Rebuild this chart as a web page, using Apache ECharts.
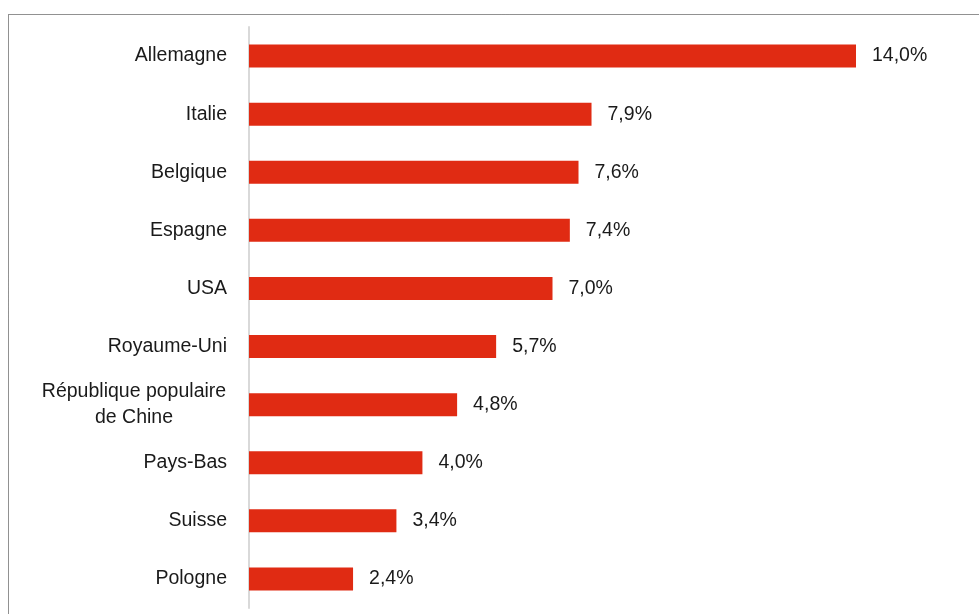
<!DOCTYPE html>
<html>
<head>
<meta charset="utf-8">
<style>
html,body{margin:0;padding:0;background:#fff;}
#chart{width:979px;height:614px;}
</style>
<script src="https://cdn.jsdelivr.net/npm/echarts@6/dist/echarts.min.js"></script>
</head>
<body>
<div id="chart"></div>
<script>
const categories = ["Allemagne","Italie","Belgique","Espagne","USA","Royaume-Uni","République populaire\nde Chine","Pays-Bas","Suisse","Pologne"];
const values = [14.0,7.9,7.6,7.4,7.0,5.7,4.8,4.0,3.4,2.4];

const FONT = "'Liberation Sans',Arial,sans-serif";
const FS = 19.5;
const chart = echarts.init(document.getElementById('chart'));
chart.setOption({
  animation:false,
  backgroundColor:'#fff',
  graphic:[{type:'rect',shape:{x:8.5,y:14.5,width:1100,height:1100},style:{fill:'none',stroke:'#222',lineWidth:1,lineDash:[1,1]},silent:true}],
  grid:{left:249,right:123,top:27,bottom:6},
  xAxis:{type:'value',min:0,max:14,show:false},
  yAxis:{type:'category',data:categories,inverse:true,
    axisLine:{show:true,lineStyle:{color:'#d9d9d9',width:2}},
    axisTick:{show:false},
    axisLabel:{margin:22,color:'#1a1a1a',fontFamily:FONT,fontSize:FS,align:'right',lineHeight:26,
      formatter:function(v){
        if(v.indexOf('\n')>=0){return v.split('\n').map(s=>'{c|'+s+'}').join('\n');}
        return v;
      },
      rich:{c:{width:186,align:'center',fontFamily:FONT,fontSize:FS,color:'#1a1a1a',lineHeight:26}}
    }
  },
  series:[{type:'bar',data:values,barWidth:23,itemStyle:{color:'#e02b13'},
    label:{show:true,position:'right',distance:16,color:'#1a1a1a',fontFamily:FONT,fontSize:FS,
      formatter:p=>p.value.toFixed(1).replace('.',',')+'%'}}]
});
</script>
</body>
</html>
